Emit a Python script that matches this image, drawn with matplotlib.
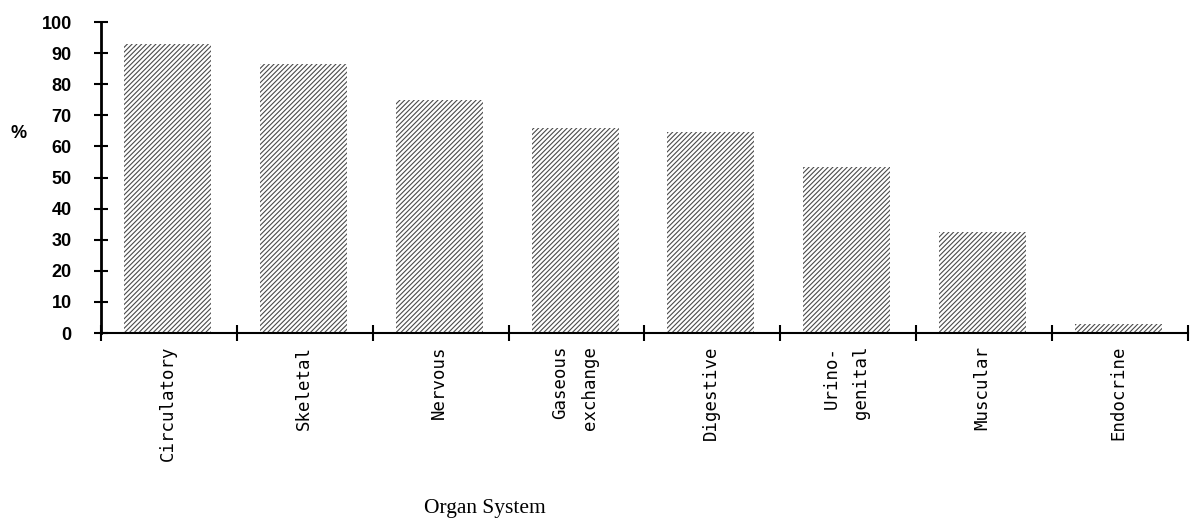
import numpy as np
import matplotlib
matplotlib.use('Agg')
import matplotlib.pyplot as plt

# data
organs = ['Circulatory', 'Skeletal', 'Nervous', 'Gaseous\nexchange',
          'Digestive', 'Urino-\ngenital', 'Muscular', 'Endocrine']
percent = [93, 86.5, 75, 66, 64.5, 53.5, 32.5, 3]
yticks = list(range(0, 101, 10))

plt.rcParams['hatch.linewidth'] = 0.8

fig = plt.figure(figsize=(11.95, 5.24), dpi=100)
ax = fig.add_axes([0.0845, 0.3645, 0.9095, 0.5935])

x = np.arange(len(organs)) + 0.49
ax.bar(x, percent, width=0.64, color='white', edgecolor='#4a4a4a',
       linewidth=0, hatch='///////', zorder=1)

ax.set_xlim(0, len(organs))
ax.set_ylim(0, 100)

# y axis
ax.set_yticks(yticks)
ax.set_yticklabels([str(t) for t in yticks], fontsize=13, fontweight='bold',
                   family='Liberation Sans')
ax.tick_params(axis='y', direction='inout', length=10, width=1.5, pad=16)

# x axis: boundary ticks + labels at centres
ax.set_xticks(np.arange(len(organs) + 1))
ax.set_xticklabels([])
ax.tick_params(axis='x', which='major', direction='inout', length=12, width=1.5)
ax.set_xticks(np.arange(len(organs)) + 0.49, minor=True)
ax.set_xticklabels(organs, minor=True, rotation=90, va='top', ha='center',
                   multialignment='right', family='DejaVu Sans Mono',
                   fontsize=12.5, linespacing=1.8)
ax.tick_params(axis='x', which='minor', length=0, pad=9)

for s in ['top', 'right']:
    ax.spines[s].set_visible(False)
ax.spines['left'].set_linewidth(2)
ax.spines['bottom'].set_linewidth(1.5)
ax.spines['left'].set_zorder(3)
ax.spines['bottom'].set_zorder(3)

fig.text(19 / 1195, 1 - 133 / 524, '%', fontsize=13, fontweight='bold',
         family='Liberation Sans', ha='center', va='center')
fig.text(485 / 1195, 1 - 508 / 524, 'Organ System', fontsize=15.5,
         family='Liberation Serif', ha='center', va='center')

fig.savefig('out.png', dpi=100)
